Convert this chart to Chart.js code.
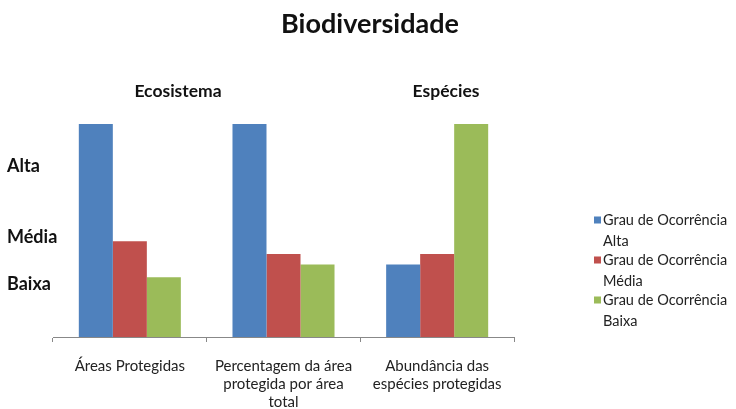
<!DOCTYPE html>
<html>
<head>
<meta charset="utf-8">
<script src="https://cdn.jsdelivr.net/npm/chart.js@4"></script>
<style>
html,body{margin:0;padding:0;background:#fff}
#wrap{width:736px;height:409px}
</style>
</head>
<body>
<div id="wrap"><canvas id="c"></canvas></div>
<script>
const categories=[['Áreas Protegidas'],['Percentagem da área','protegida por área','total'],['Abundância das','espécies protegidas']];
const seriesNames=[['Grau de Ocorrência','Alta'],['Grau de Ocorrência','Média'],['Grau de Ocorrência','Baixa']];
const alta=[100,100,34];
const media=[45,39,39];
const baixa=[28,34,100];
const yTickValues=[25,47,80];
const yTickLabels=['Baixa','Média','Alta'];
const groupLabels=['Ecosistema','Espécies'];
const titulo='Biodiversidade';
const cores=['#4F81BD','#C0504D','#9BBB59'];
const FONT='Lato';

// titulo, textos de grupo e legenda
const extras={id:'extras',afterDraw(chart){
  const ctx=chart.ctx;ctx.save();
  ctx.fillStyle='#111';ctx.textBaseline='middle';ctx.textAlign='center';
  ctx.font='bold 27px '+FONT;
  ctx.fillText(titulo,370,24);
  ctx.font='bold 17.5px '+FONT;
  ctx.fillText(groupLabels[0],178,91);
  ctx.fillText(groupLabels[1],446,91);
  ctx.textAlign='left';ctx.font='14.5px '+FONT;
  chart.data.datasets.forEach((d,i)=>{
    const y=220+i*40;
    ctx.fillStyle=d.backgroundColor;ctx.fillRect(594,y-3.5,7,7);
    ctx.fillStyle='#222';
    d.label.forEach((t,j)=>ctx.fillText(t,603,y+j*21));
  });
  ctx.restore();
}};

new Chart(document.getElementById('c'),{
  type:'bar',
  data:{labels:categories,datasets:[
    {label:seriesNames[0],data:alta,backgroundColor:cores[0]},
    {label:seriesNames[1],data:media,backgroundColor:cores[1]},
    {label:seriesNames[2],data:baixa,backgroundColor:cores[2]}
  ]},
  options:{
    responsive:true,maintainAspectRatio:false,animation:false,
    layout:{padding:{left:0,right:222,top:124,bottom:0}},
    datasets:{bar:{categoryPercentage:0.664,barPercentage:1}},
    plugins:{legend:{display:false},tooltip:{enabled:false},title:{display:false}},
    scales:{
      x:{
        grid:{drawOnChartArea:false,drawTicks:true,tickLength:5,color:'#888'},
        border:{color:'#888'},
        ticks:{color:'#222',font:{family:FONT,size:15},padding:15,maxRotation:0,autoSkip:false},
        afterFit(s){s.height=72}
      },
      y:{
        min:0,max:100,
        grid:{display:false},border:{display:false},
        afterBuildTicks(a){a.ticks=yTickValues.map(v=>({value:v}))},
        // mirror + padding negativo: rotulos alinhados a esquerda em x=7, sem corte
        ticks:{mirror:true,padding:-46,color:'#111',font:{family:FONT,size:18,weight:'bold'},
          callback:v=>yTickLabels[yTickValues.indexOf(v)]},
        afterFit(s){s.width=53}
      }
    }
  },
  plugins:[extras]
});
</script>
</body>
</html>
